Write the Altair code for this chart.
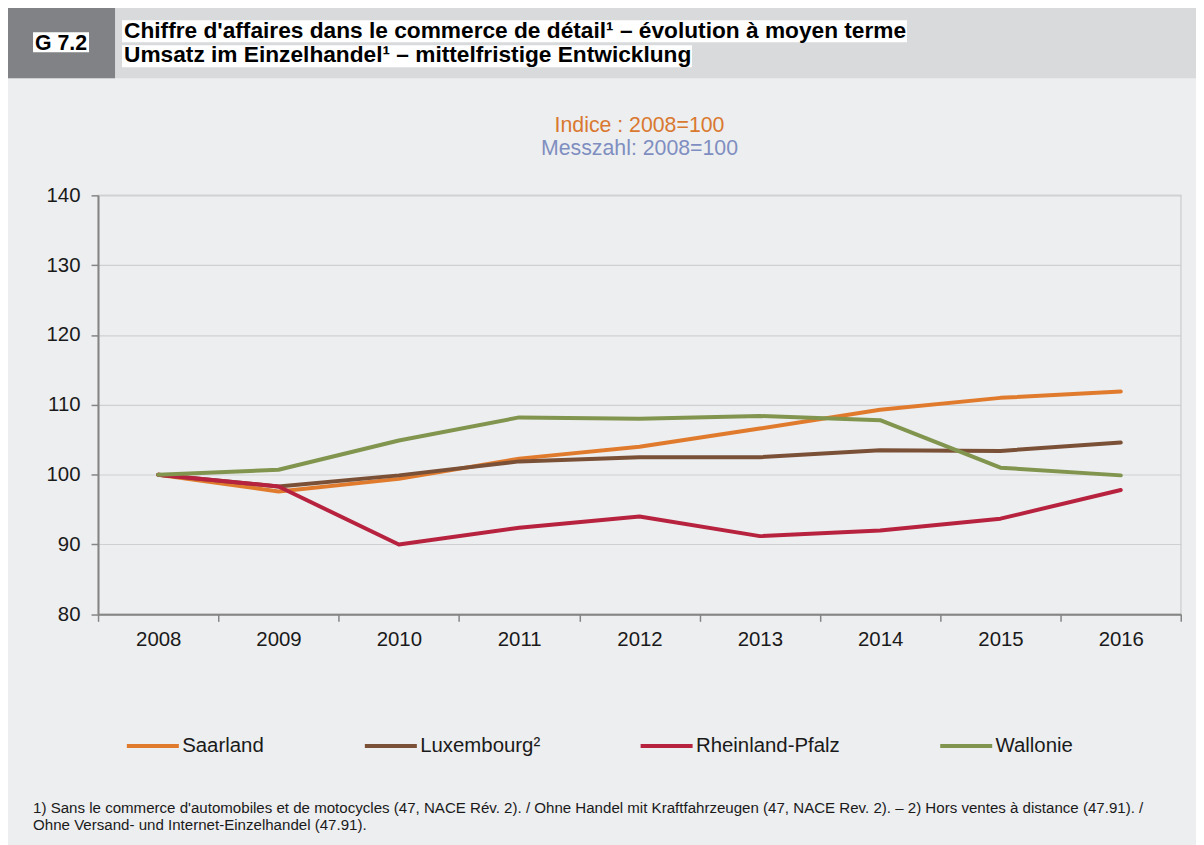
import altair as alt
import pandas as pd

# ---------------- data ----------------
years = ["2008", "2009", "2010", "2011", "2012", "2013", "2014", "2015", "2016"]
series_names = ["Saarland", "Luxembourg²", "Rheinland-Pfalz", "Wallonie"]
series_colors = ["#E07B2E", "#7A5137", "#B7233F", "#82954F"]
saarland = [100.0, 97.6, 99.4, 102.3, 104.0, 106.6, 109.3, 111.0, 111.9]
luxembourg = [100.0, 98.3, 99.9, 101.9, 102.5, 102.5, 103.5, 103.4, 104.6]
rheinland_pfalz = [100.0, 98.3, 90.0, 92.4, 94.0, 91.2, 92.0, 93.7, 97.8]
wallonie = [100.0, 100.7, 104.9, 108.2, 108.0, 108.4, 107.8, 101.0, 99.9]
y_ticks = [80, 90, 100, 110, 120, 130, 140]

title_fr = "Chiffre d'affaires dans le commerce de détail¹ – évolution à moyen terme"
title_de = "Umsatz im Einzelhandel¹ – mittelfristige Entwicklung"
chart_id = "G 7.2"
sub_fr = "Indice : 2008=100"
sub_de = "Messzahl: 2008=100"
note_1 = ("1) Sans le commerce d'automobiles et de motocycles (47, NACE Rév. 2). / "
          "Ohne Handel mit Kraftfahrzeugen (47, NACE Rev. 2). – 2) Hors ventes à distance (47.91). /")
note_2 = "Ohne Versand- und Internet-Einzelhandel (47.91)."

rows = []
for name, vals in zip(series_names, [saarland, luxembourg, rheinland_pfalz, wallonie]):
    for yr, v in zip(years, vals):
        rows.append({"year": yr, "series": name, "value": v})
df = pd.DataFrame(rows)

FONT = "Liberation Sans"

# page is 1212 px wide with body margins -> viewer fits it to 1204
S = 1204 / 1212
DY = 2.5  # observed vertical offset of the page
TOTAL_W, TOTAL_H = 1196, 843
L = 98 / S - 8
T = (195 - DY) / S - 8
PW = 1083 / S
PH = 419 / S
R = TOTAL_W - L - PW
B = TOTAL_H - T - PH


def X(p):
    return p / S - 8 - L


def Y(p):
    return (p - DY) / S - 8 - T


def F(f):
    return f / S


one = alt.Data(values=[{"a": 1}])


def rect(x1, x2, y1, y2, color):
    return alt.Chart(one).mark_rect(color=color).encode(
        x=alt.value(X(x1)), x2=alt.value(X(x2)), y=alt.value(Y(y1)), y2=alt.value(Y(y2)))


def text(s, x, y, size, color="#000000", weight="normal", align="left"):
    return alt.Chart(one).mark_text(
        text=s, align=align, baseline="alphabetic", font=FONT, fontSize=F(size),
        fontWeight=weight, color=color).encode(x=alt.value(X(x)), y=alt.value(Y(y)))


header = rect(0, 1210, 0, 78, "#D9DADC")
idbox = rect(0, 115, 0, 78, "#808285")
id_white = rect(33, 89, 32, 52, "#FFFFFF")
t1_white = rect(122, 907, 20, 42, "#FFFFFF")
t2_white = rect(122, 692, 45, 67, "#FFFFFF")
id_text = text(chart_id, 61, 50, 21.3, weight="bold", align="center")
t1 = text(title_fr, 124, 37.5, 22.7, weight="bold")
t2 = text(title_de, 124, 61.5, 22.7, weight="bold")
s1 = text(sub_fr, 639.5, 131.5, 21.3, color="#D9782F", align="center")
s2 = text(sub_de, 639.5, 154.5, 21.3, color="#7F8EC0", align="center")
n1 = text(note_1, 33, 812.5, 15.1, color="#1a1a1a")
n2 = text(note_2, 33, 829.5, 15.1, color="#1a1a1a")

# ---------------- lines ----------------
AX = dict(labelFont=FONT, labelFontSize=F(20.4), labelColor="#1a1a1a",
          domainColor="#858585", domainWidth=2, tickColor="#858585", tickWidth=1.5,
          tickSize=F(7), title=None)

lines = alt.Chart(df).mark_line(strokeWidth=4, strokeCap="round", strokeJoin="round").encode(
    x=alt.X("year:O", bandPosition=0.5,
            scale=alt.Scale(type="band", paddingInner=0, paddingOuter=0, round=False),
            axis=alt.Axis(labelAngle=0, tickBand="extent", labelPadding=F(8), grid=False, **AX)),
    y=alt.Y("value:Q", scale=alt.Scale(domain=[80, 140], nice=False, zero=False),
            axis=alt.Axis(values=y_ticks, labelPadding=F(11), grid=True,
                          gridColor="#CFD0D2", gridWidth=1.2, **AX)),
    color=alt.Color("series:N",
                    scale=alt.Scale(domain=series_names, range=series_colors),
                    legend=alt.Legend(title=None, orient="none", legendX=X(124.5),
                                      legendY=Y(714.3 + DY),
                                      direction="horizontal", columns=4, padding=0,
                                      symbolType="stroke", symbolSize=F(52) ** 2,
                                      symbolStrokeWidth=4, labelFontSize=F(20.4),
                                      labelFont=FONT, labelColor="#1a1a1a",
                                      labelOffset=1, columnPadding=F(92), labelLimit=0)),
    order=alt.Order("series:N"),
)

chart = alt.layer(
    header, idbox, id_white, t1_white, t2_white, id_text, t1, t2, s1, s2, n1, n2, lines
).properties(
    width=PW, height=PH,
    background="#EDEEF0",
    padding={"left": L, "top": T, "right": R, "bottom": B},
    autosize=alt.AutoSizeParams(type="none"),
).configure_view(stroke="#D2D3D5", strokeWidth=1.5)

chart.save("out.html", embed_options={"renderer": "svg", "actions": False})
